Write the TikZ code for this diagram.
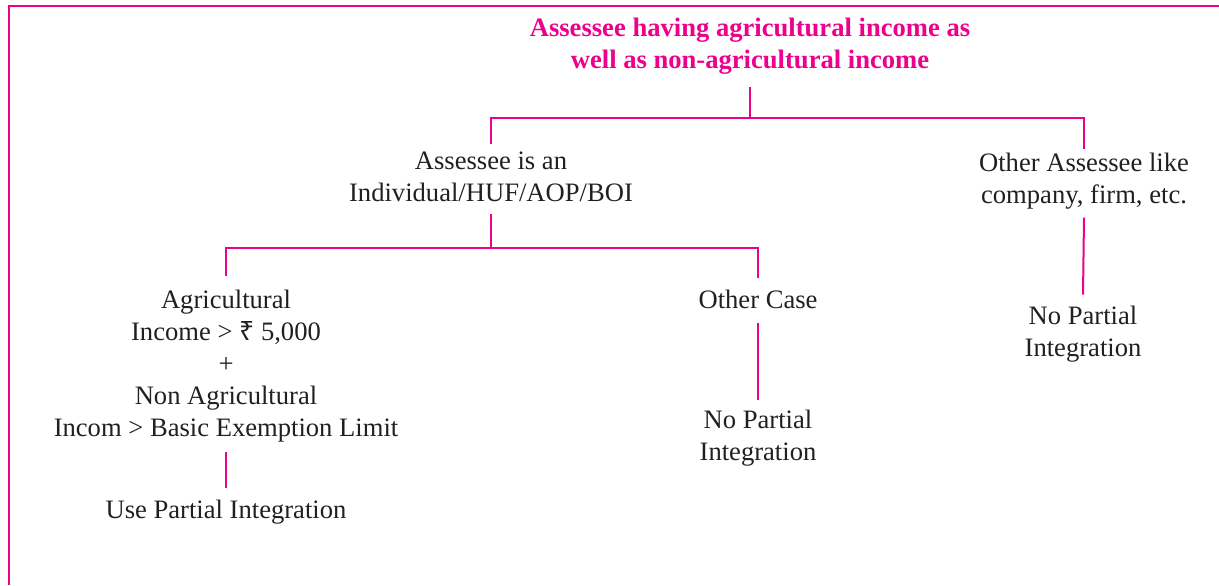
\documentclass[tikz,border=0pt]{standalone}
\usepackage{fontspec}
\setmainfont{Liberation Serif}
\newfontfamily\rupeefont{Noto Sans}
\definecolor{ipink}{RGB}{236,0,140}
\definecolor{itext}{RGB}{35,31,32}

\begin{document}
\begin{tikzpicture}[x=0.5pt, y=-0.5pt,
		box/.style={align=center, inner sep=0pt, text=itext, font=\fontsize{13.3}{16}\selectfont},
		head/.style={box, text=ipink, font=\fontsize{13.3}{16}\selectfont\bfseries},
		link/.style={draw=ipink, line width=1pt}]
			\useasboundingbox (0,0) rectangle (1219,585);
			\draw [ipink, line width=1pt](8.8,585) -- (8.8,5.8) -- (1219,5.8);

			\node (title)[head] at (750,46) {Assessee having agricultural income as\\well as non-agricultural income};
			\node (indiv)[box] at (491,177) {Assessee is an\\Individual/HUF/AOP/BOI};
			\node (other)[box] at (1084,181) {Other Assessee like\\company, firm, etc.};
			\node (agri)[box] at (226,366) {Agricultural\\Income > {\rupeefont ₹} 5,000\\+\\Non Agricultural\\Incom > Basic Exemption Limit};
			\node (case)[box] at (758,299) {Other Case};
			\node (usepi)[box] at (226,512) {Use Partial Integration};
			\node (nopia)[box] at (758,438) {No Partial\\Integration};
			\node (nopib)[box] at (1083,334) {No Partial\\Integration};

			\coordinate (bara) at (750,118);
			\coordinate (barb) at (491,248);

			\draw [link]([yshift=-6pt]title.south) -- (bara);
			\draw [link]([yshift=4pt]indiv.north) |- (bara) -| ([yshift=2pt]other.north);
			\draw [link]([yshift=-6pt]indiv.south) -- (barb);
			\draw [link]([yshift=7pt]agri.north) |- (barb) -| ([yshift=5.5pt]case.north);
			\draw [link]([yshift=-7pt]case.south) -- ([yshift=5pt]nopia.north);
			\draw [link]([yshift=-4pt]other.south) -- ([yshift=5.5pt]nopib.north);
			\draw [link]([yshift=-5pt]agri.south) -- ([yshift=6pt]usepi.north);
		\end{tikzpicture}
\end{document}
